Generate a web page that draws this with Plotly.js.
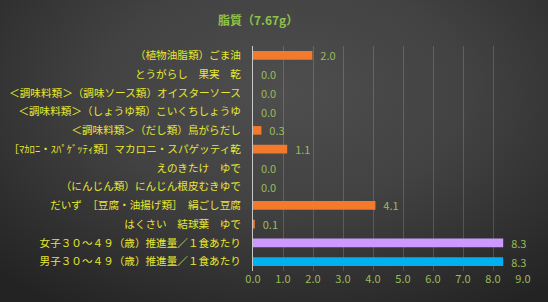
<!DOCTYPE html>
<html><head><meta charset="utf-8">
<script src="https://cdn.plot.ly/plotly-3.0.1.min.js"></script>
<style>
html,body{margin:0;padding:0;}
body{width:548px;height:302px;background:radial-gradient(ellipse 75% 85% at 52% 30%, #4e4e4e 0%, #424242 45%, #2e2e2e 80%, #232323 100%);}
#chart{width:548px;height:302px;}
</style></head>
<body><div id="chart"></div>
<script>
const titleText = "脂質（7.67g）";
const categories = [
  "（植物油脂類）ごま油",
  "とうがらし　果実　乾",
  "＜調味料類＞（調味ソース類）オイスターソース",
  "＜調味料類＞（しょうゆ類）こいくちしょうゆ",
  "＜調味料類＞（だし類）鳥がらだし",
  "［ﾏｶﾛﾆ・ｽﾊﾟｹﾞｯﾃｨ類］マカロニ・スパゲッティ乾",
  "えのきたけ　ゆで",
  "（にんじん類）にんじん根皮むきゆで",
  "だいず　［豆腐・油揚げ類］　絹ごし豆腐",
  "はくさい　結球葉　ゆで",
  "女子３０～４９（歳）推進量／１食あたり",
  "男子３０～４９（歳）推進量／１食あたり"
];
const values = [1.98, 0.0, 0.0, 0.0, 0.28, 1.14, 0.0, 0.0, 4.08, 0.06, 8.34, 8.34];
const barColors = ["#f27a2a","#f27a2a","#f27a2a","#f27a2a","#f27a2a","#f27a2a","#f27a2a","#f27a2a","#f27a2a","#f27a2a","#cc99ff","#00b0f0"];
const xTicks = [0,1,2,3,4,5,6,7,8,9];

const trace = {
  type: "bar",
  orientation: "h",
  y: categories,
  x: values,
  width: 0.46,
  marker: {color: barColors, line: {width: 0}},
  text: values.map(v => "\u00a0\u00a0" + v.toFixed(1)),
  textposition: "outside",
  constraintext: "none",
  cliponaxis: false,
  textfont: {color: "#9bbb59", size: 11, family: "Noto Sans CJK JP, sans-serif"},
  hoverinfo: "none"
};

const layout = {
  width: 548, height: 302,
  paper_bgcolor: "rgba(0,0,0,0)",
  plot_bgcolor: "rgba(0,0,0,0)",
  margin: {l: 253, r: 25, t: 46, b: 31},
  showlegend: false,
  title: {text: titleText, x: 0.471, xanchor: "center", y: 0.93, yanchor: "middle",
          font: {color: "#8fc24a", size: 12, family: "Noto Sans CJK JP, sans-serif", weight: "bold"}},
  xaxis: {
    range: [0, 9], tickvals: xTicks, ticktext: xTicks.map(v => v.toFixed(1)),
    showgrid: true, gridcolor: "rgba(255,255,255,0.16)", gridwidth: 1,
    zeroline: false, showline: false, ticks: "",
    tickfont: {color: "#9bbb59", size: 11, family: "Noto Sans CJK JP, sans-serif"},
    fixedrange: true
  },
  yaxis: {
    type: "category", autorange: "reversed",
    showgrid: false, zeroline: false,
    showline: true, linecolor: "#c8c8c8", linewidth: 1,
    ticks: "", ticklabelstandoff: 9,
    tickfont: {color: "#e8e830", size: 10.6, family: "Noto Sans CJK JP, sans-serif"},
    fixedrange: true
  },
  bargap: 0.5
};

Plotly.newPlot("chart", [trace], layout, {staticPlot: true, displayModeBar: false});
</script>
</body></html>
